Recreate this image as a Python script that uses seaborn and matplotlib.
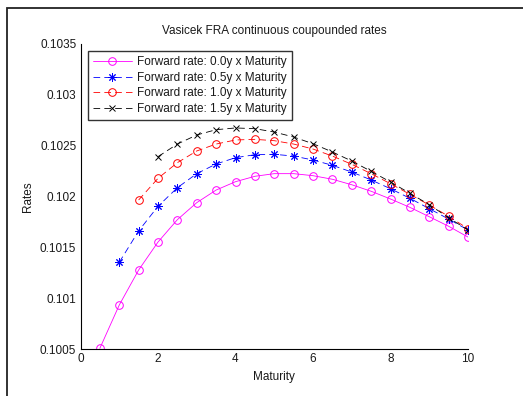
import matplotlib
matplotlib.use("Agg")
import matplotlib.pyplot as plt
from matplotlib.patches import Rectangle
import numpy as np
import seaborn as sns

# Vasicek FRA continuously compounded rates by maturity, one series per forward start
maturity = [0.5, 1.0, 1.5, 2.0, 2.5, 3.0, 3.5, 4.0, 4.5, 5.0,
            5.5, 6.0, 6.5, 7.0, 7.5, 8.0, 8.5, 9.0, 9.5, 10.0]

fwd_00 = [0.100507, 0.100932, 0.101276, 0.101551, 0.101771, 0.101938, 0.102062,
          0.102144, 0.102197, 0.102223, 0.102223, 0.102203, 0.102168, 0.102114,
          0.102050, 0.101974, 0.101892, 0.101800, 0.101706, 0.101600]
fwd_05 = [0.101352, 0.101660, 0.101902, 0.102085, 0.102223, 0.102318, 0.102380,
          0.102409, 0.102413, 0.102396, 0.102357, 0.102305, 0.102239, 0.102161,
          0.102075, 0.101981, 0.101879, 0.101777, 0.101669]
fwd_10 = [0.101964, 0.102177, 0.102331, 0.102446, 0.102514, 0.102554, 0.102560,
          0.102547, 0.102514, 0.102465, 0.102396, 0.102315, 0.102223, 0.102124,
          0.102020, 0.101915, 0.101804, 0.101682]
fwd_15 = [0.102390, 0.102514, 0.102603, 0.102655, 0.102672, 0.102665, 0.102632,
          0.102583, 0.102517, 0.102436, 0.102347, 0.102246, 0.102141, 0.102030,
          0.101918, 0.101790, 0.101669]

labels = ["Forward rate: 0.0y x Maturity", "Forward rate: 0.5y x Maturity",
          "Forward rate: 1.0y x Maturity", "Forward rate: 1.5y x Maturity"]
x_ticks = [0, 2, 4, 6, 8, 10]
y_ticks = [0.1005, 0.101, 0.1015, 0.102, 0.1025, 0.103, 0.1035]
y_tick_labels = ["0.1005", "0.101", "0.1015", "0.102", "0.1025", "0.103", "0.1035"]

sns.set_style("white")
plt.rcParams["font.family"] = ["Liberation Sans", "DejaVu Sans"]
plt.rcParams["font.size"] = 8.5

fig = plt.figure(figsize=(5.23, 3.96), dpi=100)
ax = fig.add_axes([80.5 / 523, 1 - 349 / 396, (468 - 80.5) / 523, (349 - 43.7) / 396])

dash = (0, (8, 5))
series = [
    (fwd_00, "#ff00ff", "o", "-", 5.5),
    (fwd_05, "#0000ff", (8, 2, 0), dash, 6.0),
    (fwd_10, "#ff0000", "o", dash, 5.5),
    (fwd_15, "#000000", "x", dash, 4.5),
]
for (vals, color, marker, ls, ms), lab in zip(series, labels):
    xs = maturity[len(maturity) - len(vals):]
    sns.lineplot(x=xs, y=vals, ax=ax, color=color, marker=marker, linestyle=ls,
                 linewidth=0.6, markersize=ms, markerfacecolor="none",
                 markeredgecolor=color, markeredgewidth=0.7, label=lab)

ax.set_xlim(0, 10)
ax.set_ylim(0.1005, 0.1035)
ax.set_xticks(x_ticks)
ax.set_xticklabels([str(t) for t in x_ticks])
ax.set_yticks(y_ticks)
ax.set_yticklabels(y_tick_labels)
ax.tick_params(direction="in", length=4, width=0.8, color="black",
               labelcolor="#1a1a1a", labelsize=8.5, pad=3)
for side in ["top", "right"]:
    ax.spines[side].set_visible(False)
for side in ["left", "bottom"]:
    ax.spines[side].set_color("black")
    ax.spines[side].set_linewidth(0.8)

ax.set_title("Vasicek FRA continuous coupounded rates", fontsize=8.5,
             color="#1a1a1a", pad=7)
ax.set_xlabel("Maturity", fontsize=8.5, color="#1a1a1a", labelpad=4)
ax.set_ylabel("Rates", fontsize=8.5, color="#1a1a1a", labelpad=4)

leg = ax.legend(loc="upper left", frameon=True, fancybox=False, fontsize=8.5,
                handlelength=3.3, handletextpad=0.4, labelspacing=0.3,
                borderpad=0.45, borderaxespad=0.6, numpoints=1)
leg.get_frame().set_edgecolor("black")
leg.get_frame().set_linewidth(1.0)
for t in leg.get_texts():
    t.set_color("#1a1a1a")

# Figure frame (top and left edges visible)
fig.patches.append(Rectangle((7 / 523, -0.5), 2.0, 0.5 + (1 - 8 / 396),
                             transform=fig.transFigure, fill=False,
                             edgecolor="#222222", linewidth=1.3))

fig.savefig("out.png", dpi=100)
